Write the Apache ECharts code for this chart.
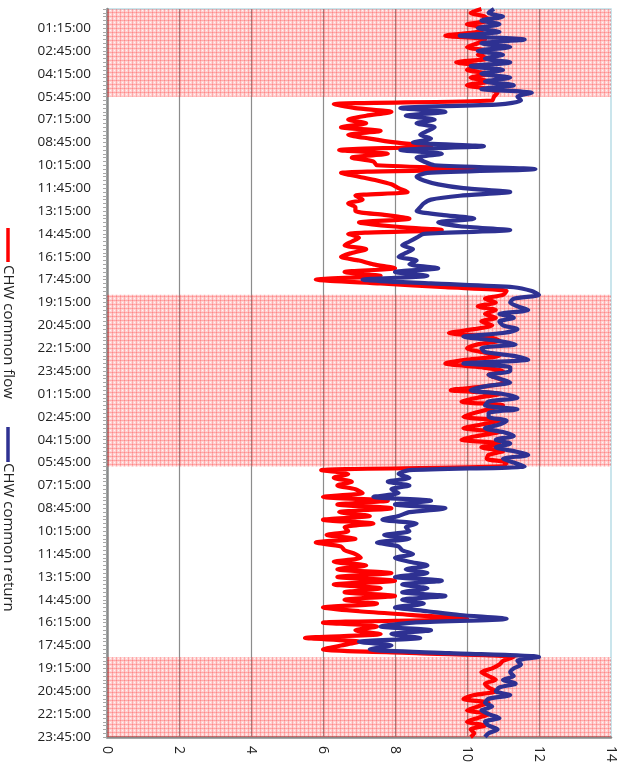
<!DOCTYPE html>
<html>
<head>
<meta charset="utf-8">
<script src="https://cdn.jsdelivr.net/npm/echarts@6/dist/echarts.min.js"></script>
<style>
  html, body { margin: 0; padding: 0; background: #fff; }
  #chart { width: 631px; height: 769px; }
</style>
</head>
<body>
<div id="chart"></div>
<script>
    // two days of 15 minute readings, 00:00 day 1 to 23:45 day 2
    var seriesNames = ['CHW common flow', 'CHW common return'];

    var flowValues = [
        10.4, 10.1, 10.5, 10.6, 10.0, 10.5, 10.3, 9.4, 10.5, 10.3,
        10.0, 10.6, 10.3, 10.6, 9.7, 10.4, 10.0, 10.6, 10.1, 10.6,
        10.0, 10.6, 10.85, 10.75, 10.7, 6.3, 6.9, 7.9, 7.2, 6.7,
        7.2, 6.5, 7.6, 6.7, 7.3, 8.0, 9.0, 6.45, 7.8, 6.8,
        7.4, 7.5, 10.4, 6.5, 7.0, 7.5, 7.9, 8.1, 8.35, 6.9,
        7.1, 6.7, 6.9, 6.9, 7.7, 8.4, 7.0, 7.9, 9.3, 6.7,
        7.0, 6.8, 6.6, 7.2, 6.8, 6.5, 7.0, 7.4, 8.0, 6.6,
        7.6, 5.8, 7.6, 9.4, 11.1, 11.0, 10.5, 10.8, 10.3, 10.8,
        10.5, 10.8, 10.4, 10.7, 10.2, 9.5, 10.6, 10.9, 10.3, 10.0,
        10.4, 10.9, 10.0, 9.4, 10.4, 11.0, 10.6, 10.9, 11.1, 10.5,
        9.55, 10.9, 10.3, 9.85, 11.0, 10.6, 10.2, 9.9, 10.9, 10.4,
        9.9, 10.9, 10.3, 9.85, 10.9, 10.4, 11.0, 10.6, 10.55, 11.1,
        11.0, 5.95, 6.7, 6.3, 6.8, 6.4, 6.9, 7.1, 6.0, 7.8,
        6.4, 7.9, 6.45, 7.3, 6.0, 7.4, 6.6, 6.7, 6.1, 6.9,
        5.8, 6.5, 6.6, 6.9, 7.05, 6.3, 7.2, 6.4, 7.9, 6.4,
        8.0, 6.3, 7.6, 6.6, 8.0, 6.6, 7.5, 6.0, 7.0, 8.5,
        10.0, 6.0, 7.5, 6.9, 7.6, 5.5, 7.0, 6.5, 6.0, 8.6,
        11.3, 11.0, 10.9, 10.7, 10.4, 10.6, 10.8, 10.5, 10.6, 10.8,
        10.2, 9.9, 10.6, 10.3, 10.0, 10.6, 10.3, 10.0, 10.5, 10.1,
        10.2, 10.1
    ];

    var returnValues = [
        10.75, 10.6, 11.0, 10.4, 10.9, 10.3, 10.9, 9.8, 11.6, 10.4,
        11.2, 10.3, 11.0, 10.5, 11.2, 10.1, 11.0, 10.4, 11.2, 10.5,
        11.3, 10.4, 11.8, 11.4, 11.5, 10.9, 8.15, 9.4, 8.3, 9.1,
        8.6, 9.1, 8.9, 8.7, 9.0, 8.5, 10.47, 8.15, 9.3, 8.6,
        8.8, 9.1, 11.9, 8.9, 8.6, 8.8, 9.2, 9.9, 11.2, 9.8,
        9.0, 8.8, 8.7, 8.6, 9.3, 10.2, 9.2, 9.8, 11.2, 8.8,
        8.6, 8.4, 8.2, 8.5, 8.3, 8.1, 8.6, 8.4, 9.2, 8.0,
        8.9, 7.1, 9.0, 11.3, 11.8, 12.0, 11.3, 11.2, 11.4, 11.7,
        10.9, 11.3, 10.9, 11.0, 11.4, 11.0, 9.9, 10.8, 11.35, 10.4,
        10.5, 11.3, 11.7, 9.9, 11.2, 11.2, 10.6, 10.9, 11.2, 10.5,
        10.1, 11.0, 11.4, 10.6, 10.5, 11.4, 10.6, 10.6, 11.1, 10.9,
        10.5, 11.0, 11.3, 10.8, 11.2, 10.8, 11.3, 11.7, 11.0, 11.3,
        11.6, 8.4, 8.1, 8.4, 7.8, 8.4, 7.9, 8.1, 7.4, 9.0,
        8.0, 9.4, 8.4, 8.1, 7.65, 8.6, 8.3, 8.4, 7.7, 8.4,
        7.5, 8.1, 8.2, 8.5, 8.0, 8.4, 8.9, 8.3, 8.9, 8.0,
        9.3, 8.2, 8.9, 8.2, 9.4, 8.2, 8.8, 8.0, 8.9, 9.8,
        11.1, 8.5, 7.6, 9.0, 7.9, 8.7, 7.0, 7.9, 7.3, 9.5,
        12.0, 11.4, 11.5, 11.3, 11.2, 11.3, 11.0, 11.35, 10.9, 10.8,
        11.2, 10.6, 10.5, 10.7, 10.4, 10.6, 10.9, 10.5, 10.6, 10.85,
        10.6, 10.5
    ];

    // night periods (category index from / to), shaded
    var nightStart = [0, 75, 170];
    var nightEnd = [22.6, 120, 191];

    var xTicks = [0, 2, 4, 6, 8, 10, 12, 14];

    var timeLabels = [];
    for (var d = 0; d < 2; d++) {
        for (var m = 0; m < 24 * 60; m += 15) {
            var hh = Math.floor(m / 60), mm = m % 60;
            timeLabels.push((hh < 10 ? '0' : '') + hh + ':' + (mm < 10 ? '0' : '') + mm + ':00');
        }
    }

    // pink dotted grid used for the night shading
    function makePattern() {
        var c = document.createElement('canvas');
        c.width = 4;
        c.height = 4;
        var ctx = c.getContext('2d');
        ctx.fillStyle = 'rgba(255,70,70,0.24)';
        ctx.fillRect(0, 0, 4, 4);
        ctx.fillStyle = 'rgba(255,0,0,0.2)';
        ctx.fillRect(0, 0, 4, 1);
        ctx.fillRect(0, 0, 1, 4);
        ctx.fillStyle = 'rgba(255,255,255,0.75)';
        ctx.fillRect(2, 2, 1, 1);
        return c;
    }

    var areas = [];
    for (var k = 0; k < nightStart.length; k++) {
        areas.push([{yAxis: nightStart[k], xAxis: 0}, {yAxis: nightEnd[k], xAxis: 14}]);
    }

    var labelFont = "'Open Sans', sans-serif";

    var myChart = echarts.init(document.getElementById('chart'), null, {renderer: 'canvas'});
    var option = {
        animation: false,
        backgroundColor: '#fff',
        grid: {
            left: 107,
            right: 20,
            top: 9,
            bottom: 32,
            show: true,
            borderColor: '#b9dde6',
            borderWidth: 1.5
        },
        xAxis: {
            type: 'value',
            min: 0,
            max: 14,
            interval: 2,
            axisLine: {show: true, lineStyle: {color: '#8a8a8a', width: 2.5}},
            axisTick: {show: false},
            splitLine: {show: true, showMaxLine: false, showMinLine: false, lineStyle: {color: '#8c8c8c', width: 1.2}},
            axisLabel: {
                rotate: -90,
                margin: 9,
                color: '#222',
                fontSize: 14,
                fontFamily: labelFont,
                formatter: function (v) { return xTicks.indexOf(v) >= 0 ? String(v) : ''; }
            }
        },
        yAxis: {
            type: 'category',
            inverse: true,
            boundaryGap: false,
            data: timeLabels,
            axisLine: {show: true, lineStyle: {color: '#8a8a8a', width: 2.5}},
            axisTick: {show: true, interval: 0, length: 4, lineStyle: {color: '#a8a8a8', width: 1}},
            splitLine: {show: false},
            axisLabel: {
                interval: function (index) { return index % 6 === 5; },
                margin: 16,
                color: '#222',
                fontSize: 13.5,
                fontFamily: labelFont
            }
        },
        series: [
            {
                name: seriesNames[0],
                type: 'line',
                data: flowValues,
                smooth: 0.25,
                showSymbol: false,
                lineStyle: {color: '#ff0000', width: 4.2},
                z: 2
            },
            {
                name: seriesNames[1],
                type: 'line',
                data: returnValues,
                smooth: 0.25,
                showSymbol: false,
                lineStyle: {color: '#2e3192', width: 4.2},
                z: 3
            },
            {
                // only carries the shading, drawn over the lines
                name: 'night',
                type: 'line',
                data: [],
                z: 6,
                silent: true,
                markArea: {
                    silent: true,
                    itemStyle: {color: {image: makePattern(), repeat: 'repeat'}},
                    data: areas
                }
            }
        ],
        graphic: [
            {type: 'line', shape: {x1: 8, y1: 228, x2: 8, y2: 262}, style: {stroke: '#ff0000', lineWidth: 3.5}},
            {
                type: 'text', x: 8, y: 265, rotation: -Math.PI / 2,
                style: {text: seriesNames[0], fill: '#222', font: "15px 'Open Sans', sans-serif", textAlign: 'left', textVerticalAlign: 'middle'}
            },
            {type: 'line', shape: {x1: 8, y1: 427, x2: 8, y2: 462}, style: {stroke: '#2e3192', lineWidth: 3.5}},
            {
                type: 'text', x: 8, y: 463, rotation: -Math.PI / 2,
                style: {text: seriesNames[1], fill: '#222', font: "15px 'Open Sans', sans-serif", textAlign: 'left', textVerticalAlign: 'middle'}
            }
        ]
    };
    myChart.setOption(option);
</script>
</body>
</html>
